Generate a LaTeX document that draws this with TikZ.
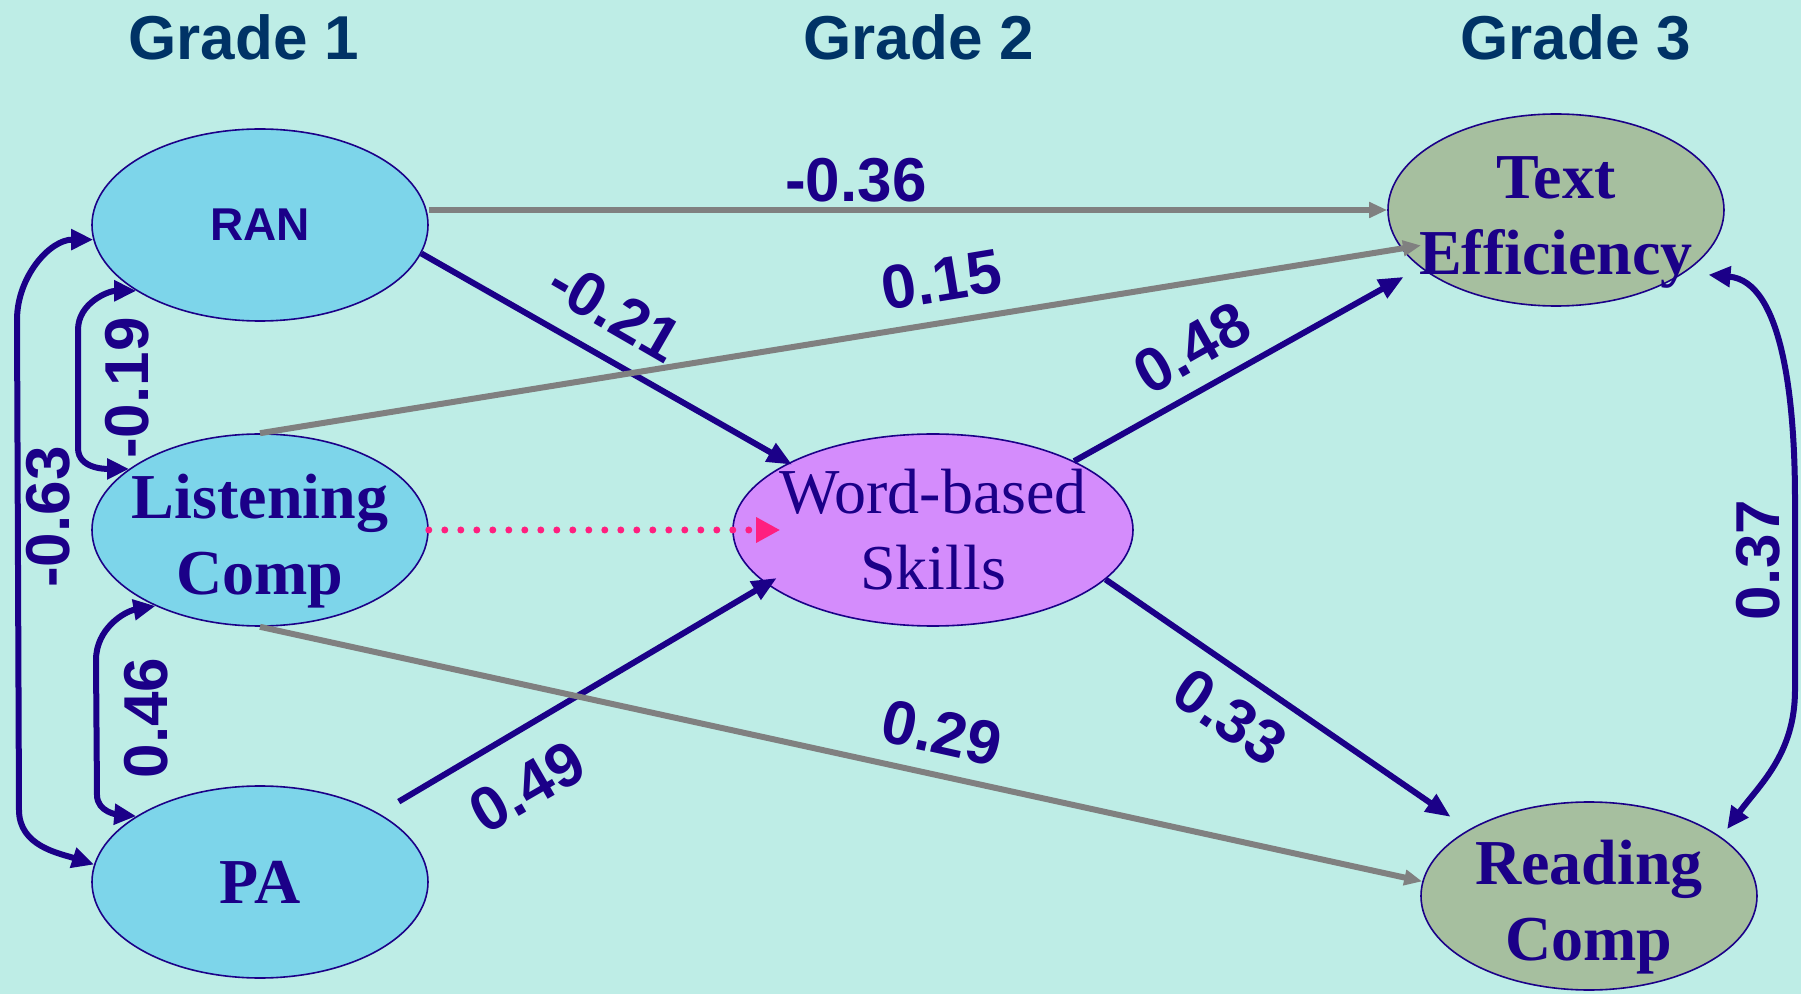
\documentclass[tikz,border=0pt]{standalone}
\usepackage{fontspec}
\setmainfont{Liberation Serif}
\setsansfont{Liberation Sans}
\usetikzlibrary{shapes.geometric,arrows.meta}
\definecolor{bgc}{HTML}{BEEDE6}
\definecolor{fillblue}{HTML}{7DD5EA}
\definecolor{fillpurple}{HTML}{D48CFC}
\definecolor{fillgreen}{HTML}{A6BF9F}
\definecolor{ink}{HTML}{1B0088}
\definecolor{navy}{HTML}{003366}
\definecolor{grayc}{HTML}{808080}
\definecolor{pinkc}{HTML}{FF1F7F}
\newcommand{\lowstrut}{\rule{0pt}{33pt}}
\tikzset{
  ell/.style={ellipse, draw=ink, line width=0.8pt, inner xsep=-14pt, inner ysep=-8pt,
    minimum width=168pt, minimum height=96pt, text=ink, align=center},
  grade1/.style={ell, fill=fillblue},
  wordbox/.style={ell, fill=fillpurple, minimum width=200pt,
    font=\fontsize{32}{38}\selectfont},
  outbox/.style={ell, fill=fillgreen, font=\bfseries\fontsize{32}{38}\selectfont},
  serifbold/.style={font=\bfseries\fontsize{32}{38}\selectfont},
  coef/.style={font=\sffamily\bfseries\fontsize{31}{31}\selectfont, text=ink, inner sep=0pt},
  gradehead/.style={font=\sffamily\bfseries\fontsize{31}{31}\selectfont, text=navy, inner sep=0pt},
  bluearr/.style={draw=ink, line width=3pt, -{Triangle[length=12.5pt,width=10pt]}},
  grayarr/.style={draw=grayc, line width=3pt, -{Triangle[length=9pt,width=7.5pt]}},
  corr/.style={draw=ink, line width=3pt,
    {Triangle[length=11pt,width=10pt]}-{Triangle[length=11pt,width=10pt]}},
  dotarr/.style={draw=pinkc, line width=3.5pt, line cap=round,
    dash pattern=on 0pt off 8pt, -{Triangle[length=12pt,width=12pt]}}
}
\begin{document}
\begin{tikzpicture}[x=0.5pt,y=-0.5pt]
  \fill[bgc] (0,0) rectangle (1801,994);
  \useasboundingbox (0,0) rectangle (1801,994);

  % headings
  \node[gradehead] (g1) at (244,37) {Grade 1};
  \node[gradehead] (g2) at (919,37) {Grade 2};
  \node[gradehead] (g3) at (1576,37) {Grade 3};

  % nodes
  \node[grade1, font=\sffamily\bfseries\fontsize{23}{23}\selectfont] (RAN) at (260,225) {RAN};
  \node[grade1, serifbold] (LC) at (260,530) {\lowstrut Listening\\Comp};
  \node[grade1, serifbold] (PA) at (260,882) {PA};
  \node[wordbox] (Word) at (933,530) {Word-based\\Skills};
  \node[outbox] (TE) at (1556,210) {\lowstrut Text\\Efficiency};
  \node[outbox, minimum height=94pt] (RC) at (1589,896) {\lowstrut Reading\\Comp};

  % coordinates for the correlation curves
  \coordinate (c63a) at (17,320);
  \coordinate (c63b) at (19,810);
  \coordinate (c19a) at (78,330);
  \coordinate (c19b) at (78,448);
  \coordinate (c46a) at (96,660);
  \coordinate (c46b) at (97,795);
  \coordinate (c37a) at (1795,500);
  \coordinate (c37b) at (1795,690);

  % paths
  \draw[grayarr] (RAN.east |- TE.west) -- (TE.west);
  \draw[bluearr, shorten >=-2pt] (RAN.-10) -- (Word.155);
  \draw[grayarr, shorten >=-10pt] (LC.north) -- (TE.194);
  \draw[dotarr, shorten >=-24pt] (LC.east) -- (Word.west);
  \draw[bluearr, shorten <=11.5pt, shorten >=-6pt] (PA.30) -- (Word.198);
  \draw[grayarr] (LC.south) -- (RC.175);
  \draw[bluearr, shorten >=9.5pt] (Word.26) -- (TE.203);
  \draw[bluearr, shorten >=11pt] (Word.-16) -- (RC.151);

  \draw[corr] (RAN.185) to[out=180,in=90] (c63a) -- (c63b) to[out=-90,in=162] (PA.174);
  \draw[corr] (RAN.208) to[out=180,in=90] (c19a) -- (c19b) to[out=-90,in=180] (LC.155);
  \draw[corr] (LC.216) to[out=190,in=90] (c46a) -- (c46b) to[out=-90,in=175] (PA.152);
  \draw[corr, shorten <=12pt, shorten >=5pt] (TE.-26) to[out=-5,in=90] (c37a) -- (c37b) to[out=-90,in=54] (RC.24);

  % coefficients
  \node[coef] (l036) at (856,180) {-0.36};
  \node[coef, rotate=-30] (l021) at (615,311) {-0.21};
  \node[coef, rotate=9.4] (l015) at (942,280) {0.15};
  \node[coef, rotate=30] (l049) at (527,787) {0.49};
  \node[coef, rotate=-12.5] (l029) at (942,733) {0.29};
  \node[coef, rotate=29.4] (l048) at (1192,348) {0.48};
  \node[coef, rotate=-34] (l033) at (1230,717) {0.33};
  \node[coef, rotate=90] (l063) at (48,517) {-0.63};
  \node[coef, rotate=90] (l019) at (127,388) {-0.19};
  \node[coef, rotate=90] (l046) at (146,718) {0.46};
  \node[coef, rotate=90] (l037) at (1758,560) {0.37};
\end{tikzpicture}
\end{document}
